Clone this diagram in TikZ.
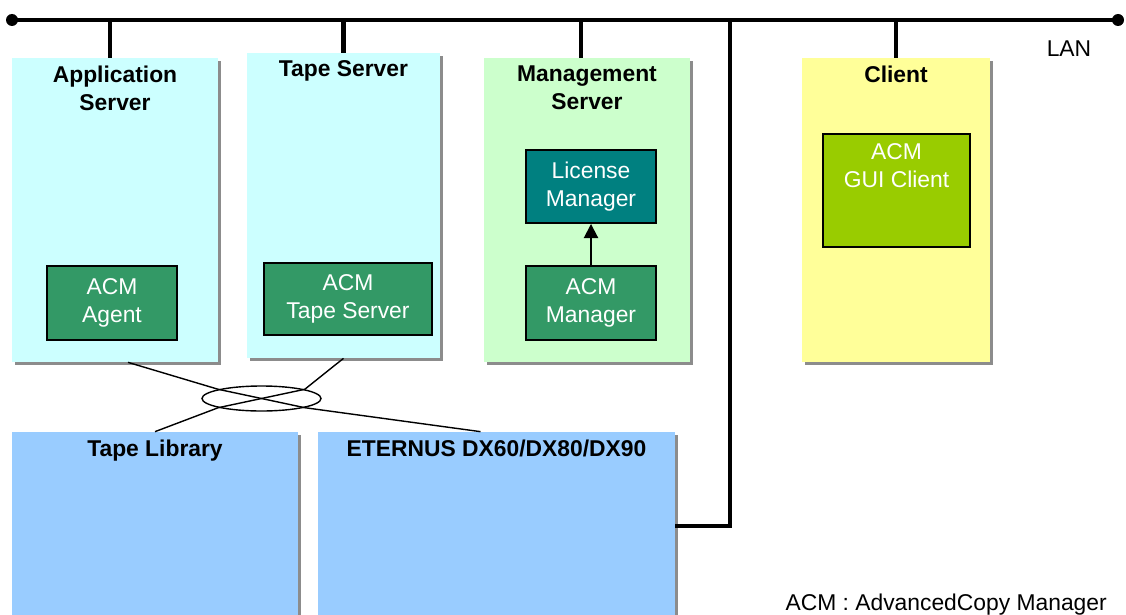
\documentclass[tikz,border=0pt]{standalone}
\usepackage{fontspec}
\setmainfont{Liberation Sans}
\usetikzlibrary{arrows.meta,shadows,shapes.geometric}
\definecolor{srvcyan}{HTML}{CCFFFF}
\definecolor{srvgreen}{HTML}{CCFFCC}
\definecolor{srvyellow}{HTML}{FFFF99}
\definecolor{stgblue}{HTML}{99CCFF}
\definecolor{acmgreen}{HTML}{339966}
\definecolor{licteal}{HTML}{008080}
\definecolor{guilime}{HTML}{99CC00}
\begin{document}
\begin{tikzpicture}[
font=\fontsize{13}{16}\selectfont,
host/.style={inner sep=0pt, drop shadow={shadow xshift=0.06cm, shadow yshift=-0.06cm,
fill=black!45, opacity=1}},
hosttitle/.style={anchor=north, align=center, inner sep=0pt, yshift=-0.15cm,
font=\fontsize{13}{16}\selectfont\bfseries},
sw/.style={draw, line width=1.1pt, text=white, align=center, inner sep=0pt},
lan/.style={line width=2.5pt},
cable/.style={line width=0.8pt}
]
\useasboundingbox (0,0) rectangle (22.52,-12.30);

\node[host, fill=srvcyan, minimum width=4.12cm, minimum height=6.08cm,
label={[hosttitle]north:Application\\Server}] (app) at (2.30,-4.20) {};
\node[host, fill=srvcyan, minimum width=3.86cm, minimum height=6.10cm,
label={[hosttitle]north:Tape Server}] (tsv) at (6.87,-4.11) {};
\node[host, fill=srvgreen, minimum width=4.12cm, minimum height=6.08cm,
label={[hosttitle]north:Management\\Server}] (mgs) at (11.74,-4.20) {};
\node[host, fill=srvyellow, minimum width=3.76cm, minimum height=6.08cm,
label={[hosttitle]north:Client}] (cli) at (17.92,-4.20) {};

\node[sw, fill=acmgreen, minimum width=2.60cm, minimum height=1.48cm] (agent) at (2.24,-6.06) {ACM\\Agent};
\node[sw, fill=acmgreen, minimum width=3.36cm, minimum height=1.44cm] (tapeacm) at (6.96,-5.98) {ACM\\Tape Server};
\node[sw, fill=licteal, minimum width=2.60cm, minimum height=1.46cm] (lic) at (11.82,-3.73) {License\\Manager};
\node[sw, fill=acmgreen, minimum width=2.60cm, minimum height=1.48cm] (mgr) at (11.82,-6.06) {ACM\\Manager};
\node[sw, fill=guilime, minimum width=2.94cm, minimum height=2.26cm,
label={[anchor=north, align=center, inner sep=0pt, text=white, yshift=-0.2cm]north:ACM\\GUI Client}] (gui) at (17.93,-3.81) {};

\node[host, fill=stgblue, minimum width=5.72cm, minimum height=3.76cm,
label={[hosttitle]north:Tape Library}] (lib) at (3.10,-10.52) {};
\node[host, fill=stgblue, minimum width=7.14cm, minimum height=3.76cm,
label={[hosttitle]north:ETERNUS DX60/DX80/DX90}] (etr) at (9.93,-10.52) {};

\node[draw, ellipse, cable, minimum width=2.38cm, minimum height=0.50cm, inner sep=0pt] (hub) at (5.23,-7.97) {};

% LAN
\coordinate (lanW) at (0.24,-0.40);
\coordinate (lanE) at (22.36,-0.40);
\coordinate (tap) at (14.60,-0.40);
\draw[lan] (lanW) -- (lanE);
\fill (lanW) circle (0.12);
\fill (lanE) circle (0.12);
\draw[lan] ([xshift=-0.1cm]app.north) -- ([xshift=-0.1cm]app.north |- lanW);
\draw[lan] (tsv.north) -- (tsv.north |- lanW);
\draw[lan] ([xshift=-0.12cm]mgs.north) -- ([xshift=-0.12cm]mgs.north |- lanW);
\draw[lan] (cli.north) -- (cli.north |- lanW);
\draw[lan] (tap) |- (etr.east);
\node (lanlbl) at (21.38,-0.97) {LAN};

% SAN
\draw[cable] ([xshift=0.26cm]app.south) -- (hub.168) -- (hub.-12) -- ([xshift=-0.32cm]etr.north);
\draw[cable] (tsv.south) -- (hub.12) -- (hub.192) -- (lib.north);

\draw[line width=1.1pt, -{Triangle[width=8pt,length=8pt]}] (mgr) -- (lic);

\node[anchor=base east] (note) at (22.26,-12.20) {ACM : AdvancedCopy Manager};
\end{tikzpicture}
\end{document}
